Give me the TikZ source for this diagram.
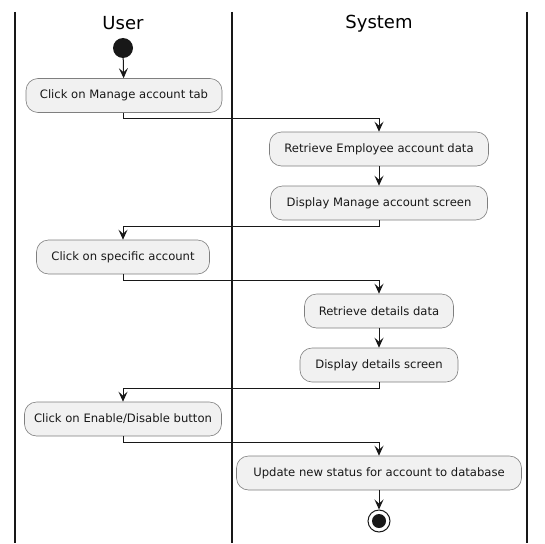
\documentclass[tikz,border=0pt]{standalone}
\usepackage{fontspec}
\setmainfont{DejaVu Sans}
\usetikzlibrary{arrows.meta}
\definecolor{boxfill}{HTML}{F1F1F1}
\definecolor{boxline}{HTML}{7F7F7F}
\definecolor{ink}{HTML}{181818}
\begin{document}
\begin{tikzpicture}[x=1pt,y=-1pt,
  act/.style={draw=boxline,fill=boxfill,rounded corners=12pt,minimum height=34pt,
    inner xsep=0pt,inner ysep=0pt,font=\fontsize{11.6pt}{14pt}\selectfont,text=ink,line width=0.6pt},
  flow/.style={draw=ink,line width=1pt,-{Stealth[length=10pt,width=9pt,inset=4pt]}},
  lane/.style={draw=ink,line width=1.4pt},
  hdr/.style={font=\fontsize{18pt}{21pt}\selectfont,text=black}]
\useasboundingbox (0,0) rectangle (545,543);
% lanes
\draw[lane] (15,12) -- (15,543);
\draw[lane] (232,12) -- (232,543);
\draw[lane] (527,12) -- (527,543);
\node[hdr] (huser) at (123,23.5) {User};
\node[hdr] (hsys) at (379,23.5) {System};
% nodes
\node[circle,fill=ink,minimum size=20pt,inner sep=0pt] (start) at (123,48) {};
\node[act,minimum width=196pt] (a1) at (124,95.5) {Click on Manage account tab};
\node[act,minimum width=219pt] (a2) at (379,149) {Retrieve Employee account data};
\node[act,minimum width=217pt] (a3) at (379,203) {Display Manage account screen};
\node[act,minimum width=173pt] (a4) at (123,257) {Click on specific account};
\node[act,minimum width=149pt] (a5) at (379,311) {Retrieve details data};
\node[act,minimum width=158pt] (a6) at (379,365) {Display details screen};
\node[act,minimum width=197pt] (a7) at (123,419) {Click on Enable/Disable button};
\node[act,minimum width=285pt] (a8) at (379,473) {Update new status for account to database};
\node[circle,draw=ink,line width=1pt,fill=white,minimum size=22pt,inner sep=0pt] (stop) at (379,521) {};
\node[circle,fill=ink,minimum size=14pt,inner sep=0pt] (stopin) at (stop.center) {};
% connectors
\draw[flow] (start) -- (a1);
\draw[flow] (a1.south -| start) -- ++(0,6) -| (a2.north);
\draw[flow] (a2) -- (a3);
\draw[flow] (a3.south) -- ++(0,6) -| (a4.north);
\draw[flow] (a4.south) -- ++(0,6) -| (a5.north);
\draw[flow] (a5) -- (a6);
\draw[flow] (a6.south) -- ++(0,6) -| (a7.north);
\draw[flow] (a7.south) -- ++(0,6) -| (a8.north);
\draw[flow] (a8) -- (stop);
\end{tikzpicture}
\end{document}
